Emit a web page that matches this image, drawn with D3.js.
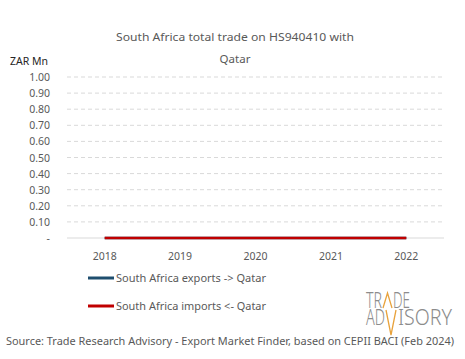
<!DOCTYPE html>
<html lang="en">
    <head>
        <meta charset="utf-8">
        <title>South Africa trade HS940410 Qatar</title>
        <script type="text/javascript" src="https://d3js.org/d3.v7.min.js"></script>
        <style>
          body { margin: 0; background: #fff; }
          text { font-family: "Noto Sans", "DejaVu Sans", sans-serif; }
        </style>
    </head>
    <body>
        <script type="text/javascript">
            const years = ["2018", "2019", "2020", "2021", "2022"]
            const exports_zar = [0, 0, 0, 0, 0]
            const imports_zar = [0, 0, 0, 0, 0]
            const y_ticks = [0, 0.1, 0.2, 0.3, 0.4, 0.5, 0.6, 0.7, 0.8, 0.9, 1.0]

            const w = 465
            const h = 359

            const svg = d3.select("body")
                          .append("svg")
                          .attr("width", w)
                          .attr("height", h)

            const x = d3.scaleBand().domain(years).range([67, 444])
            const y = d3.scaleLinear().domain([0, 1]).range([238, 77])
            const cx = (d) => x(d) + x.bandwidth() / 2

            // title
            svg.append("text")
               .attr("x", 235).attr("y", 41)
               .attr("text-anchor", "middle")
               .attr("font-size", 11.5).attr("fill", "#595959")
               .attr("textLength", 238)
               .attr("lengthAdjust", "spacingAndGlyphs")
               .text("South Africa total trade on HS940410 with")
            svg.append("text")
               .attr("x", 235).attr("y", 63)
               .attr("text-anchor", "middle")
               .attr("font-size", 11.5).attr("fill", "#595959")
               .text("Qatar")

            svg.append("text")
               .attr("x", 10).attr("y", 65)
               .attr("font-size", 10.5).attr("fill", "#262626")
               .text("ZAR Mn")

            // gridlines
            svg.selectAll("line.grid")
               .data(y_ticks.filter(d => d > 0))
               .enter()
               .append("line")
               .attr("x1", 67).attr("x2", 444)
               .attr("y1", d => y(d)).attr("y2", d => y(d))
               .attr("stroke", "#d9d9d9")
               .attr("stroke-dasharray", "4,3")
            svg.append("line")
               .attr("x1", 67).attr("x2", 444)
               .attr("y1", y(0)).attr("y2", y(0))
               .attr("stroke", "#d9d9d9")

            // y labels
            svg.selectAll("text.ylab")
               .data(y_ticks)
               .enter()
               .append("text")
               .attr("x", 50)
               .attr("y", d => y(d) + 4)
               .attr("text-anchor", "end")
               .attr("font-size", 10.5).attr("fill", "#595959")
               .text(d => d === 0 ? "-" : d.toFixed(2))

            // x labels
            svg.selectAll("text.xlab")
               .data(years)
               .enter()
               .append("text")
               .attr("x", d => cx(d))
               .attr("y", 260)
               .attr("text-anchor", "middle")
               .attr("font-size", 10.5).attr("fill", "#595959")
               .text(d => d)

            const line = d3.line()
                           .x((d, i) => cx(years[i]))
                           .y(d => y(d))

            svg.append("path")
               .attr("d", line(exports_zar))
               .attr("fill", "none")
               .attr("stroke", "#1f4e6e")
               .attr("stroke-width", 2.5)
            svg.append("path")
               .attr("d", line(imports_zar))
               .attr("fill", "none")
               .attr("stroke", "#c00000")
               .attr("stroke-width", 2.5)

            // legend
            const legend = [
                {name: "South Africa exports -> Qatar", color: "#1f4e6e"},
                {name: "South Africa imports <- Qatar", color: "#c00000"}
            ]
            legend.forEach((d, i) => {
                const ly = 278 + i * 28
                svg.append("line")
                   .attr("x1", 88).attr("x2", 114)
                   .attr("y1", ly).attr("y2", ly)
                   .attr("stroke", d.color).attr("stroke-width", 3)
                svg.append("text")
                   .attr("x", 116).attr("y", ly + 4)
                   .attr("font-size", 10.5).attr("fill", "#595959")
                   .attr("textLength", 150)
                   .attr("lengthAdjust", "spacingAndGlyphs")
                   .text(d.name)
            })

            // logo, built from text pieces plus the orange chevrons
            const logo = svg.append("g").attr("fill", "#8c8c8c")
                            .attr("font-family", "Roboto, sans-serif")
                            .attr("font-weight", 300)
                            .attr("font-size", 21)
            const piece = (txt, x0, x1, yb) => {
                logo.append("text")
                    .attr("x", x0).attr("y", yb)
                    .attr("textLength", x1 - x0)
                    .attr("lengthAdjust", "spacingAndGlyphs")
                    .text(txt)
            }
            piece("TR", 366, 382, 308)
            piece("DE", 393, 410, 308)
            piece("AD", 366, 385, 325)
            piece("ISORY", 398, 452, 325)
            logo.append("polyline")
                .attr("points", "383,308 387.5,293 392,308")
                .attr("fill", "none").attr("stroke", "#e8a33d").attr("stroke-width", 1.3)
            logo.append("polyline")
                .attr("points", "386,310 391,335 396,310")
                .attr("fill", "none").attr("stroke", "#e8a33d").attr("stroke-width", 1.3)

            // source
            svg.append("text")
               .attr("x", 6).attr("y", 345)
               .attr("font-size", 10.2).attr("fill", "#595959")
               .attr("textLength", 448)
               .attr("lengthAdjust", "spacingAndGlyphs")
               .text("Source: Trade Research Advisory - Export Market Finder, based on CEPII BACI (Feb 2024)")
        </script>
    </body>
</html>
